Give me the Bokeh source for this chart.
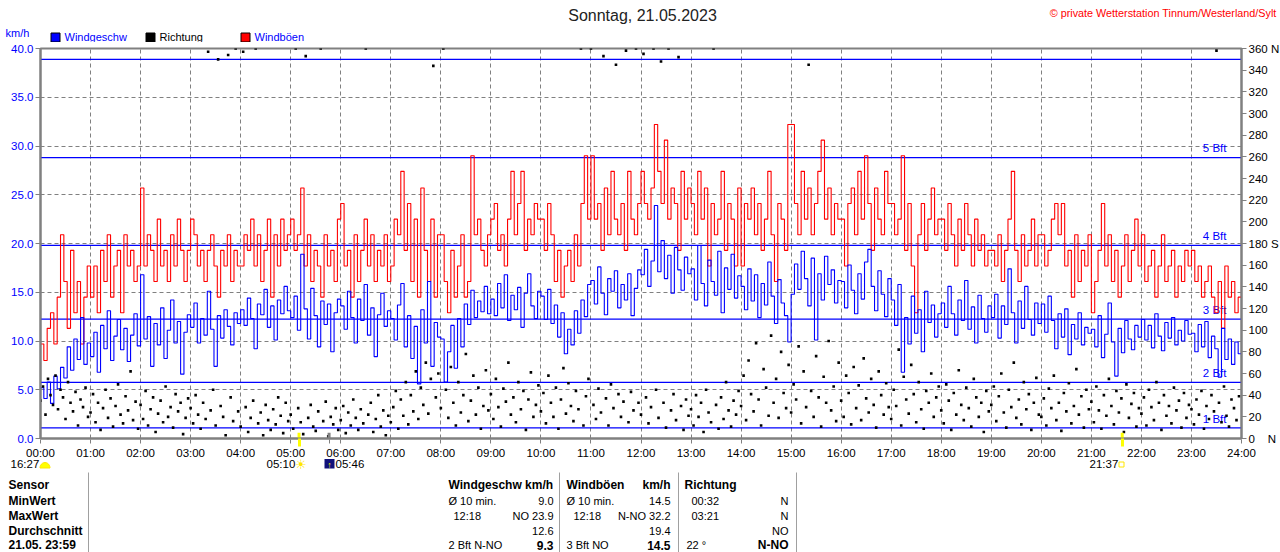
import numpy as np
from bokeh.plotting import figure
from bokeh.layouts import column
from bokeh.models import Range1d, LinearAxis, FixedTicker, NumeralTickFormatter
from bokeh.core.properties import value
from bokeh.embed import file_html
from bokeh.resources import INLINE

# ---------------- data ----------------
date_title = "Sonntag, 21.05.2023"
copyright_text = "\u00a9 private Wetterstation Tinnum/Westerland/Sylt"
series_names = ["Windgeschw", "Richtung", "Windböen"]
series_colors = ["#0000FF", "#000000", "#FF0000"]
unit_label = "km/h"

hour_ticks = list(range(25))
hour_labels = ["%02d:00" % h for h in hour_ticks]
speed_ticks = [0, 5, 10, 15, 20, 25, 30, 35, 40]
dir_ticks = list(range(0, 361, 20))
dir_label_overrides = {360: "360\u00a0N", 180: "180\u00a0S", 0: "0\u00a0\u00a0\u00a0\u00a0N"}

bft_limits = [1.08, 5.76, 12.24, 19.8, 28.8, 38.88]
bft_names = ["1 Bft", "2 Bft", "3 Bft", "4 Bft", "5 Bft"]

# moon 16:27, sunrise 05:10, twilight 05:46, sunset 21:37
astro_times = ["16:27", "05:10", "05:46", "21:37"]
sun_marks_h = [5 + 10 / 60, 21 + 37 / 60]
twilight_h = 5 + 46 / 60

wind_step_min = 4
dir_step_min = 3

# wind speed km/h, one row per hour (4-minute samples) + value at 24:00
wind_kmh = [
    5.2, 4.1, 5.8, 3.6, 6.4, 5.1, 7.3, 6.2, 9.4, 7.0, 10.2, 8.1, 12.4, 7.6, 9.8,
    8.4, 10.9, 6.8, 11.6, 9.2, 13.1, 8.0, 10.5, 12.2, 9.1, 11.3, 7.9, 10.6, 12.8, 9.5,
    16.8, 10.2, 12.5, 7.4, 11.8, 9.6, 13.4, 8.2, 11.1, 14.2, 9.8, 12.0, 6.6, 10.9, 12.7,
    11.4, 13.9, 9.8, 12.3, 10.6, 15.1, 11.2, 7.4, 12.6, 10.3, 13.2, 11.5, 9.6, 12.9, 11.8,
    13.2, 11.6, 14.4, 12.3, 9.2, 13.8, 12.7, 15.3, 11.4, 13.6, 10.1, 14.2, 12.8, 15.6, 13.1,
    12.4, 14.6, 11.1, 18.9, 13.3, 10.2, 15.4, 12.6, 9.4, 14.1, 11.7, 13.8, 8.9, 12.9, 14.3,
    13.6, 11.2, 15.1, 12.4, 9.8, 14.3, 12.1, 15.8, 10.6, 13.4, 8.4, 12.7, 14.9, 11.5, 13.1,
    12.3, 10.1, 13.7, 15.9, 9.4, 12.6, 8.2, 11.5, 5.6, 13.2, 9.8, 16.1, 7.4, 11.9, 10.4,
    10.2, 5.8, 8.9, 11.6, 7.2, 12.3, 9.4, 13.8, 11.7, 15.2, 12.4, 14.1, 13.0, 15.6, 12.8,
    14.3, 12.6, 15.9, 13.4, 16.8, 12.1, 14.7, 13.2, 15.5, 11.4, 14.9, 16.9, 13.6, 12.3, 15.1,
    14.6, 12.2, 15.3, 11.8, 13.7, 10.4, 12.9, 8.7, 11.2, 9.6, 13.1, 10.8, 14.2, 12.5, 15.8,
    16.2, 13.8, 17.6, 14.9, 12.7, 16.4, 15.1, 17.2, 13.4, 15.8, 14.2, 16.9, 12.6, 15.4, 17.3,
    16.8, 19.4, 15.6, 18.2, 23.9, 17.1, 20.3, 16.4, 18.8, 14.9, 19.6, 17.3, 15.2, 18.6, 16.9,
    17.4, 14.2, 19.8, 15.9, 13.6, 18.3, 16.1, 14.7, 19.2, 12.9, 17.5, 15.3, 18.9, 14.4, 16.7,
    15.6, 13.2, 17.4, 14.1, 16.8, 12.4, 15.9, 13.7, 18.1, 14.6, 11.8, 16.3, 13.9, 12.6, 9.9,
    14.8, 17.9, 15.3, 19.2, 16.4, 13.6, 18.5, 10.1, 16.9, 14.2, 18.7, 15.8, 17.3, 13.9, 16.2,
    16.1, 13.4, 17.8, 15.2, 12.8, 16.9, 14.3, 18.1, 19.4, 15.6, 13.1, 17.2, 14.8, 12.5, 16.4,
    14.2, 11.6, 15.8, 6.8, 12.4, 9.7, 14.6, 10.8, 13.2, 8.9, 15.1, 11.9, 13.7, 10.4, 12.8,
    13.9, 11.4, 15.6, 12.8, 10.6, 14.2, 12.1, 16.2, 11.2, 13.5, 9.8, 14.7, 12.3, 10.9, 13.6,
    12.4, 14.8, 10.3, 13.6, 11.7, 17.4, 12.9, 9.8, 14.1, 11.3, 15.6, 12.2, 10.6, 13.9, 11.8,
    13.8, 10.9, 14.6, 12.1, 9.2, 12.8, 10.4, 13.3, 8.6, 11.7, 10.2, 12.9, 9.6, 11.4, 10.8,
    11.2, 9.4, 12.6, 8.3, 10.7, 13.9, 9.9, 6.4, 11.3, 8.8, 12.1, 10.2, 9.1, 11.6, 10.4,
    12.2, 10.1, 11.6, 9.3, 12.8, 10.5, 9.0, 11.9, 10.3, 12.4, 9.6, 11.1, 10.0, 12.1, 10.7,
    10.8, 8.9, 11.7, 9.4, 12.0, 8.3, 10.5, 9.2, 6.3, 11.3, 8.1, 10.2, 7.6, 9.9, 8.7,
    9.0,
]

# gusts km/h, one row per hour (4-minute samples) + value at 24:00
gust_kmh = [
    9.7, 8.0, 11.3, 12.9, 9.7, 14.5, 20.9, 16.1, 11.3, 19.3, 12.9, 16.1, 9.7, 14.5, 17.7,
    14.5, 17.7, 12.9, 19.3, 16.1, 20.9, 14.5, 17.7, 19.3, 12.9, 20.9, 17.7, 19.3, 16.1, 17.7,
    25.7, 17.7, 20.9, 19.3, 16.1, 22.5, 17.7, 19.3, 16.1, 20.9, 17.7, 22.5, 19.3, 16.1, 19.3,
    22.5, 20.9, 17.7, 19.3, 16.1, 19.3, 20.9, 17.7, 14.5, 19.3, 17.7, 20.9, 16.1, 19.3, 17.7,
    17.7, 20.9, 19.3, 22.5, 17.7, 20.9, 16.1, 19.3, 22.5, 14.5, 20.9, 17.7, 22.5, 19.3, 20.9,
    22.5, 19.3, 20.9, 25.7, 17.7, 20.9, 16.1, 19.3, 17.7, 14.5, 20.9, 17.7, 19.3, 16.1, 22.5,
    24.1, 17.7, 19.3, 14.5, 20.9, 16.1, 19.3, 22.5, 17.7, 20.9, 16.1, 19.3, 17.7, 20.9, 16.1,
    17.7, 22.5, 20.9, 27.4, 19.3, 24.1, 16.1, 22.5, 14.5, 25.7, 19.3, 16.1, 22.5, 14.5, 20.9,
    20.9, 16.1, 12.9, 19.3, 14.5, 17.7, 20.9, 14.5, 16.1, 29.0, 20.9, 22.5, 19.3, 17.7, 20.9,
    22.5, 24.1, 19.3, 20.9, 17.7, 22.5, 27.4, 20.9, 24.1, 27.4, 19.3, 22.5, 20.9, 24.1, 22.5,
    22.5, 19.3, 24.1, 20.9, 16.1, 19.3, 14.5, 17.7, 19.3, 16.1, 20.9, 17.7, 24.1, 29.0, 22.5,
    29.0, 22.5, 24.1, 19.3, 25.7, 20.9, 27.4, 22.5, 20.9, 24.1, 19.3, 27.4, 22.5, 20.9, 24.1,
    27.4, 24.1, 22.5, 25.7, 32.2, 27.4, 24.1, 30.6, 22.5, 25.7, 24.1, 19.3, 27.4, 22.5, 25.7,
    24.1, 20.9, 27.4, 22.5, 25.7, 17.7, 24.1, 20.9, 22.5, 27.4, 19.3, 24.1, 22.5, 17.7, 25.7,
    17.7, 24.1, 22.5, 25.7, 20.9, 24.1, 19.3, 22.5, 27.4, 20.9, 16.1, 24.1, 22.5, 19.3, 32.2,
    32.2, 24.1, 20.9, 27.4, 22.5, 25.7, 20.9, 24.1, 27.4, 30.6, 22.5, 25.7, 20.9, 24.1, 22.5,
    22.5, 17.7, 24.1, 25.7, 20.9, 27.4, 22.5, 29.0, 24.1, 19.3, 25.7, 22.5, 20.9, 27.4, 24.1,
    24.1, 20.9, 22.5, 29.0, 19.3, 24.1, 17.7, 12.9, 20.9, 24.1, 19.3, 22.5, 25.7, 20.9, 22.5,
    22.5, 19.3, 24.1, 20.9, 17.7, 22.5, 19.3, 24.1, 20.9, 17.7, 22.5, 19.3, 20.9, 17.7, 19.3,
    19.3, 17.7, 20.9, 16.1, 19.3, 22.5, 27.4, 19.3, 16.1, 20.9, 17.7, 19.3, 22.5, 17.7, 20.9,
    20.9, 17.7, 19.3, 22.5, 24.1, 20.9, 24.1, 17.7, 19.3, 14.5, 20.9, 16.1, 19.3, 17.7, 20.9,
    12.9, 16.1, 19.3, 24.1, 17.7, 20.9, 16.1, 19.3, 14.5, 17.7, 20.9, 16.1, 19.3, 22.5, 17.7,
    20.9, 16.1, 17.7, 19.3, 14.5, 17.7, 20.9, 16.1, 17.7, 19.3, 14.5, 17.7, 16.1, 19.3, 17.7,
    19.3, 16.1, 17.7, 14.5, 16.1, 17.7, 14.5, 12.9, 16.1, 11.3, 17.7, 14.5, 16.1, 12.9, 14.5,
    16.1,
]

# wind direction in degrees, one row per hour (3-minute samples)
direction_deg = [
    35, 48, 22, 55, 40, 31, 58, 27, 45, 38, 18, 52, 33, 25, 43, 12, 36, 29, 47, 20,
    24, 41, 15, 33, 8, 28, 45, 19, 37, 11, 30, 50, 22, 14, 39, 26, 62, 17, 34, 9,
    31, 18, 44, 12, 27, 38, 6, 23, 35, 15, 48, 20, 29, 10, 41, 25, 33, 4, 19, 37,
    28, 14, 40, 22, 9, 33, 18, 357, 26, 45, 12, 350, 30, 20, 3, 354, 38, 16, 360, 25,
    11, 357, 29, 6, 19, 35, 360, 14, 24, 3, 31, 17, 8, 27, 13, 38, 21, 5, 33, 16,
    22, 9, 360, 28, 15, 4, 353, 19, 31, 11, 7, 25, 360, 16, 34, 2, 20, 13, 28, 8,
    17, 30, 5, 24, 12, 36, 19, 8, 27, 14, 360, 22, 33, 6, 18, 40, 11, 26, 3, 21,
    15, 29, 44, 9, 36, 21, 52, 13, 40, 25, 62, 18, 47, 31, 70, 23, 55, 344, 38, 60,
    28, 360, 45, 19, 66, 33, 12, 52, 24, 40, 78, 16, 35, 58, 22, 47, 9, 30, 63, 26,
    41, 18, 55, 29, 11, 46, 34, 70, 22, 38, 15, 52, 27, 44, 8, 36, 61, 20, 31, 49,
    25, 42, 14, 58, 33, 20, 47, 9, 36, 65, 23, 51, 30, 16, 44, 27, 360, 12, 39, 55,
    360, 31, 18, 46, 24, 353, 37, 12, 50, 28, 345, 41, 20, 34, 358, 15, 43, 26, 360, 33,
    22, 355, 38, 14, 29, 360, 45, 19, 348, 33, 10, 360, 26, 41, 17, 352, 30, 8, 36, 21,
    27, 12, 40, 20, 33, 6, 45, 24, 15, 360, 31, 9, 38, 18, 52, 26, 11, 35, 22, 44,
    30, 58, 17, 72, 41, 25, 88, 36, 12, 64, 47, 21, 95, 33, 55, 19, 80, 42, 28, 68,
    24, 50, 36, 85, 14, 62, 29, 345, 44, 20, 76, 38, 11, 57, 33, 90, 26, 48, 16, 70,
    35, 20, 58, 42, 13, 66, 28, 49, 17, 74, 37, 24, 55, 31, 10, 62, 40, 22, 51, 29,
    18, 45, 30, 82, 12, 57, 36, 23, 68, 41, 15, 52, 27, 9, 44, 33, 60, 20, 38, 48,
    26, 14, 50, 35, 8, 42, 22, 63, 31, 17, 47, 28, 11, 55, 38, 20, 33, 6, 44, 25,
    31, 48, 16, 39, 60, 24, 10, 45, 29, 70, 19, 36, 13, 52, 27, 41, 8, 33, 56, 22,
    20, 37, 12, 46, 28, 58, 17, 33, 7, 42, 25, 51, 14, 30, 64, 22, 39, 10, 45, 27,
    34, 15, 48, 26, 9, 40, 21, 55, 30, 13, 44, 24, 37, 6, 50, 19, 32, 42, 11, 28,
    23, 38, 12, 45, 29, 17, 52, 33, 8, 40, 21, 30, 14, 47, 26, 35, 10, 42, 19, 31,
    27, 13, 36, 22, 44, 9, 30, 18, 40, 25, 358, 33, 15, 48, 21, 11, 36, 28, 17, 39,
]

table_header = ["Sensor", "MinWert", "MaxWert", "Durchschnitt", "21.05. 23:59"]
speed_header = "Windgeschw km/h"
gust_header = ("Windböen", "km/h")
dir_header = "Richtung"
speed_cells = [("Ø 10 min.", "9.0"), ("12:18", "NO 23.9"), ("", "12.6"), ("2 Bft N-NO", "9.3")]
gust_cells = [("Ø 10 min.", "14.5"), ("12:18", "N-NO 32.2"), ("", "19.4"), ("3 Bft NO", "14.5")]
dir_cells = [("00:32", "N"), ("03:21", "N"), ("", "NO"), ("22 °", "N-NO")]

# ---------------- style ----------------
FONT = "Liberation Sans"
GRAY = "#808080"
W = 1280
HEAD_H = 42
MAIN_TOP, FRAME_H, MAIN_BOTTOM = 6, 390, 24
FOOT_LIFT = 4
FOOT_Y0 = HEAD_H + MAIN_TOP + FRAME_H + MAIN_BOTTOM - FOOT_LIFT
FOOT_H = 552 - FOOT_Y0


def pixel_fig(h, transparent=False):
    f = figure(width=W, height=h, x_range=Range1d(0, W), y_range=Range1d(h, 0),
               x_axis_type=None, y_axis_type=None, toolbar_location=None,
               output_backend="svg", min_border=0, outline_line_color=None,
               background_fill_color="white", border_fill_color="white",
               frame_align=False)
    if transparent:
        f.background_fill_alpha = 0
        f.border_fill_alpha = 0
    return f


def put(f, off, text, x, y, align="left", size="11px", color="black", bold=False):
    f.text(x=[x], y=[y - off], text=[text], text_align=align, text_baseline="middle",
           text_font=value(FONT), text_font_size=size, text_color=color,
           text_font_style="bold" if bold else "normal")


def rect(f, off, x0, x1, y0, y1, fill, line=None):
    f.quad(left=[x0], right=[x1], top=[y0 - off], bottom=[y1 - off],
           fill_color=fill, line_color=line, line_width=1)


# ---------------- header ----------------
head = pixel_fig(HEAD_H)
put(head, 0, date_title, 642, 15, align="center", size="16px", color="#222222")
put(head, 0, copyright_text, 1276, 12, align="right", size="10.8px", color="#FF0000")
put(head, 0, unit_label, 5, 32, size="11px", color="#0000FF")
legend_x = [50, 145, 240]
legend_text_color = ["#0000FF", "#000000", "#0000FF"]
for lx, name, col, tcol in zip(legend_x, series_names, series_colors, legend_text_color):
    rect(head, 0, lx + 0.5, lx + 9.5, 32.5, 41.5, col, "#000000")
    put(head, 0, name, lx + 14, 36.5, size="11px", color=tcol)

# ---------------- main chart ----------------
t_wind = np.arange(len(wind_kmh)) * wind_step_min / 60.0
t_gust = np.arange(len(gust_kmh)) * wind_step_min / 60.0
t_dir = np.arange(len(direction_deg)) * dir_step_min / 60.0

p = figure(frame_width=1201, frame_height=FRAME_H,
           x_range=Range1d(0, 24), y_range=Range1d(0, 40),
           output_backend="svg", toolbar_location=None,
           min_border_left=40, min_border_right=39,
           min_border_top=MAIN_TOP, min_border_bottom=MAIN_BOTTOM,
           background_fill_color="white", border_fill_color="white",
           frame_align=False)
p.extra_y_ranges = {"dir": Range1d(0, 360)}
p.outline_line_color = GRAY
p.outline_line_width = 2

x_major = hour_ticks + [twilight_h]
x_overrides = {h: lab for h, lab in zip(hour_ticks, hour_labels)}
x_overrides[twilight_h] = ""
p.xaxis.ticker = FixedTicker(ticks=x_major, minor_ticks=sun_marks_h)
p.xaxis.major_label_overrides = x_overrides
p.xaxis.major_tick_in = 0
p.xaxis.major_tick_out = 5
p.xaxis.major_tick_line_color = GRAY
p.xaxis.major_tick_line_dash = "4 3"
p.xaxis.minor_tick_in = 0
p.xaxis.minor_tick_out = 8
p.xaxis.minor_tick_line_color = "#FFFF00"
p.xaxis.minor_tick_line_width = 3
p.xaxis.axis_line_color = GRAY
p.xaxis.axis_line_width = 2
p.xaxis.major_label_standoff = 0
p.xaxis.major_label_text_font = FONT
p.xaxis.major_label_text_font_size = "11.5px"
p.xaxis.major_label_text_color = "black"

p.yaxis.ticker = FixedTicker(ticks=speed_ticks)
p.yaxis.formatter = NumeralTickFormatter(format="0.0")
p.yaxis.minor_tick_line_color = None
p.yaxis.major_tick_in = 0
p.yaxis.major_tick_out = 5
p.yaxis.major_tick_line_color = GRAY
p.yaxis.axis_line_color = GRAY
p.yaxis.axis_line_width = 2
p.yaxis.major_label_standoff = 2
p.yaxis.major_label_text_font = FONT
p.yaxis.major_label_text_font_size = "11.5px"
p.yaxis.major_label_text_color = "#0000FF"

rax = LinearAxis(y_range_name="dir", ticker=FixedTicker(ticks=dir_ticks))
rax.major_label_overrides = dir_label_overrides
rax.minor_tick_line_color = None
rax.major_tick_in = 0
rax.major_tick_out = 5
rax.major_tick_line_color = GRAY
rax.axis_line_color = GRAY
rax.axis_line_width = 2
rax.major_label_standoff = 2
rax.major_label_text_font = FONT
rax.major_label_text_font_size = "11.5px"
rax.major_label_text_color = "black"
p.add_layout(rax, "right")

for g in (p.xgrid, p.ygrid):
    g.grid_line_color = GRAY
    g.grid_line_dash = "4 3"
    g.grid_line_width = 1
p.xgrid.ticker = FixedTicker(ticks=hour_ticks)
p.ygrid.ticker = FixedTicker(ticks=speed_ticks)

# Beaufort limits
p.segment(x0=0, x1=24, y0=bft_limits, y1=bft_limits, line_color="#0000FF", line_width=1.3)
p.text(x=[23.7] * len(bft_names), y=[v + 0.35 for v in bft_limits[:len(bft_names)]],
       text=bft_names, text_align="right", text_baseline="bottom", text_color="#0000FF",
       text_font=value(FONT), text_font_size="11.5px")

# series
p.step(t_gust, gust_kmh, mode="after", line_color=series_colors[2], line_width=1.1)
p.step(t_wind, wind_kmh, mode="after", line_color=series_colors[0], line_width=1.1)
p.scatter(t_dir, direction_deg, y_range_name="dir", marker="square", size=2.6,
          fill_color="black", line_color=None)

# sunrise / sunset markers reaching into the chart
p.segment(x0=sun_marks_h, x1=sun_marks_h, y0=0, y1=0.6, line_color="#FFFF00", line_width=3)
p.segment(x0=[twilight_h], x1=[twilight_h], y0=0, y1=0.6, line_color=GRAY, line_width=3)

# ---------------- footer ----------------
foot = pixel_fig(FOOT_H, transparent=True)
foot.styles = {"margin-top": "-%dpx" % FOOT_LIFT}
o = FOOT_Y0
put(foot, o, astro_times[0], 10, 463.5, size="11.5px")
ang = np.linspace(0, np.pi, 13)
foot.patch(x=list(44.5 + 5 * np.cos(ang)), y=list(467.5 - o - 5.5 * np.sin(ang)),
           fill_color="#FFFF00", line_color="#FFE600")
put(foot, o, astro_times[1], 266, 463.5, size="11.5px")
put(foot, o, "\u2600", 300, 463.5, align="center", size="13px", color="#FFE600")
rect(foot, o, 324, 334, 458.5, 468, "#10107A")
put(foot, o, "\u2191", 329, 464, align="center", size="9px", color="#FFFF00", bold=True)
put(foot, o, astro_times[2], 335, 463.5, size="11.5px")
put(foot, o, astro_times[3], 1089, 463.5, size="11.5px")
rect(foot, o, 1118.5, 1123.5, 461.5, 466.5, None, "#FFE600")

foot.segment(x0=[88, 559, 678, 796], x1=[88, 559, 678, 796],
             y0=[472 - o] * 4, y1=[552 - o] * 4, line_color="#A0A0A0", line_width=1)
rows_y = [484, 500, 515.5, 530.5, 544.5]
for txt, ry in zip(table_header, rows_y):
    put(foot, o, txt, 8, ry, size="12px", bold=True)
put(foot, o, speed_header, 448, rows_y[0], size="12px", bold=True)
put(foot, o, gust_header[0], 566, rows_y[0], size="12px", bold=True)
put(foot, o, gust_header[1], 670, rows_y[0], align="right", size="12px", bold=True)
put(foot, o, dir_header, 684, rows_y[0], size="12px", bold=True)
left_x = [(448, 453, 448, 448), (566, 573, 566, 566), (691, 691, 691, 686)]
right_x = [553, 670, 788]
for ci, cells in enumerate((speed_cells, gust_cells, dir_cells)):
    for ri, (ltxt, rtxt) in enumerate(cells):
        ry = rows_y[ri + 1]
        if ltxt:
            put(foot, o, ltxt, left_x[ci][ri], ry, size="11px")
        put(foot, o, rtxt, right_x[ci], ry, align="right",
            size="12px" if ri == 3 else "11px", bold=(ri == 3))

layout = column(head, p, foot, spacing=0)
open("out.html", "w").write(file_html(layout, INLINE))
